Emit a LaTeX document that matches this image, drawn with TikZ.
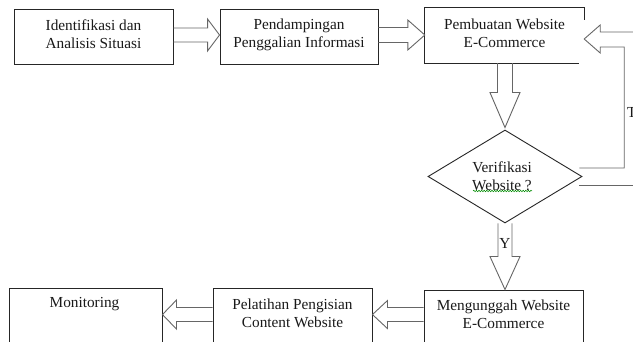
\documentclass[tikz,border=0pt]{standalone}
\usepackage{fontspec}
\setmainfont{Liberation Serif}
\usetikzlibrary{calc,shapes.geometric,decorations.pathmorphing}
\newcommand{\blockarrow}[5]{% #1 start, #2 tip, #3 shaft half width, #4 head half width, #5 head length
  \coordinate (bs) at (#1);
  \coordinate (bt) at (#2);
  \coordinate (bh) at ($(bt)!#5!(bs)$);
  \draw[blk] ($(bs)!#3!90:(bt)$) -- ($(bh)!#3!90:(bt)$) -- ($(bh)!#4!90:(bt)$) -- (bt)
    -- ($(bh)!#4!-90:(bt)$) -- ($(bh)!#3!-90:(bt)$) -- ($(bs)!#3!-90:(bt)$);}
\begin{document}
\begin{tikzpicture}[x=1pt,y=-1pt,
  boxline/.style={draw=black!85, line width=0.9pt},
  box/.style={boxline, rectangle, inner sep=0pt},
  ghost/.style={rectangle, inner sep=0pt},
  lbl/.style={font=\fontsize{15.3}{18}\selectfont, align=center, inner sep=0pt, text=black!90},
  blk/.style={draw=black!60, line width=0.9pt, line join=miter},
  squig/.style={draw=green!55!black, line width=0.5pt, decorate,
    decoration={snake, amplitude=0.8pt, segment length=2.6pt}}]
\useasboundingbox (0,0) rectangle (633,342);
\fill[white] (0,0) rectangle (633,342);
\clip (0,0) rectangle (633,342);

% boxes
\node[box, minimum width=159pt, minimum height=55pt] (b1) at (93.5,36.5) {};
\node[box, minimum width=158pt, minimum height=55pt] (b2) at (299,36.5) {};
\node[ghost, minimum width=159pt, minimum height=55pt] (b3) at (504.5,35.5) {};
\node[shape=diamond, boxline, minimum width=154pt, minimum height=93pt, inner sep=0pt] (d) at (505,176.5) {};
\node[box, minimum width=159pt, minimum height=80pt] (b4) at (503.5,330) {};
\node[box, minimum width=159pt, minimum height=80pt] (b5) at (292.5,328) {};
\node[box, minimum width=153pt, minimum height=80pt] (b6) at (85.5,328) {};

% partial outline of box 3
\draw[boxline] ($(b3.north east)+(0,12)$) -- (b3.north east) -- (b3.north west)
  -- (b3.south west) -- ($(b3.south east)+(-5,0)$);

% texts
\node[lbl] (t1) at ($(b1.center)+(0,-2)$) {Identifikasi dan\\Analisis Situasi};
\node[lbl] (t2) at ($(b2.center)+(0,-2)$) {Pendampingan\\Penggalian Informasi};
\node[lbl] (t3) at ($(b3.center)+(0,-2.5)$) {Pembuatan Website\\E-Commerce};
\node[lbl] (td) at ($(d.center)+(-3,-0.5)$) {Verifikasi\\Website ?};
\node[lbl] (t4) at ($(b4.north)+(0,24.5)$) {Mengunggah Website\\E-Commerce};
\node[lbl] (t5) at ($(b5.north)+(0,25.5)$) {Pelatihan Pengisian\\Content Website};
\node[lbl] (t6) at ($(b6.north)+(-1,16.5)$) {Monitoring};
\draw[squig] ($(d.center)+(-32,14.5)$) -- ($(d.center)+(27,14.5)$);

% block arrows
\blockarrow{$(b1.east)+(0,-1.5)$}{$(b2.west)+(0,-1.5)$}{7pt}{16pt}{12pt}
\blockarrow{$(b2.east)+(0,-1.5)$}{$(b3.west)+(0,-0.5)$}{7.5pt}{15pt}{17pt}
\blockarrow{b3.south -| d.north}{$(d.north)+(0,-2)$}{7.5pt}{15pt}{35pt}
\blockarrow{d.south}{d.south |- b4.north}{7pt}{15pt}{33pt}
\blockarrow{$(b4.north west)+(0,25)$}{$(b5.north east)+(0,27)$}{7pt}{14pt}{15pt}
\blockarrow{$(b5.north west)+(0,27)$}{$(b6.north east)+(0,27)$}{7pt}{14.5pt}{14pt}

% feedback arrow (T)
\coordinate (ft) at ($(b3.east)+(0,3.5)$);
\coordinate (fe) at ($(d.east)+(-3,-8.5)$);
\coordinate (fo) at ($(d.east)+(-3,8.5)$);
\draw[blk] ($(ft)+(56,-7)$) -- ++(-40,0) -- ++(0,-7) -- (ft) -- ++(16,14) -- ++(0,-6)
  -- ++(24,0) coordinate (fc) -- (fc |- fe) -- (fe);
\draw[blk] (fo) -- ++(60,0);

% labels on connectors
\node[lbl] (ty) at ($(d.south)+(0,20.5)$) {Y};
\node[lbl, anchor=west] (tt) at (627,112) {T};
\end{tikzpicture}
\end{document}
